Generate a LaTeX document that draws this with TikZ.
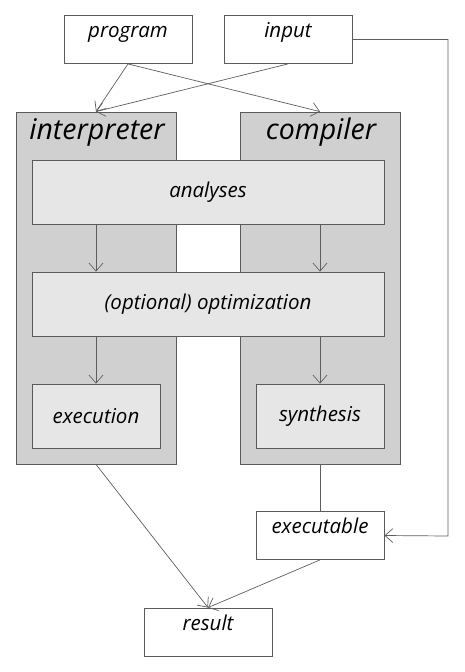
\documentclass[tikz,border=0pt]{standalone}
\usepackage{fontspec}
\setmainfont{Open Sans}
\usetikzlibrary{positioning,arrows.meta}
\definecolor{boxline}{HTML}{5A5A5A}
\definecolor{wireline}{HTML}{5E5E5E}
\definecolor{outerfill}{HTML}{D0D0D0}
\definecolor{innerfill}{HTML}{E6E6E6}
\tikzstyle{io} = [draw=boxline,thick,fill=white,minimum width=128pt,inner ysep=4pt,text height=18pt,text depth=22pt,font=\fontsize{20.5}{24}\selectfont\itshape]
\tikzstyle{tool} = [draw=boxline,thick,fill=outerfill,minimum width=160pt,minimum height=352pt]
\tikzstyle{title} = [font=\fontsize{28.5}{32}\selectfont\itshape,inner sep=0pt]
\tikzstyle{phase} = [draw=boxline,thick,fill=innerfill,minimum height=64pt,font=\fontsize{20.5}{24}\selectfont\itshape]
\tikzstyle{arrow} = [color=wireline,line width=0.7pt,-{Straight Barb[length=8pt,width=14pt]}]

\begin{document}
\begin{tikzpicture}[x=1pt,y=-1pt,node distance=112pt,on grid]
    \useasboundingbox (0,0) rectangle (464,672);
    % the two tools
   	\node[tool](interp) at (96,288){};
   	\node[tool](comp) at (320,288){};
   	\node[title] at (97,132){interpreter};
   	\node[title] at (321,132){compiler};
    % shared phases
   	\node[phase,minimum width=352pt](analyses) at (208,192){analyses};
   	\node[phase,minimum width=352pt](optim)[below=of analyses]{(optional) optimization};
   	\node[phase,minimum width=128pt](exec) at (96,416){execution};
   	\node[phase,minimum width=128pt](synth) at (320,416){synthesis};
    % inputs and outputs
   	\node[io](program) at (128,39.5){program};
   	\node[io](input) at (288,39.5){input};
   	\node[io](binary) at (320,535.5){executable};
   	\node[io](result) at (208,632){result};
    \coordinate (corner) at (448,536);
    \path[arrow]
    (program.south) edge (interp.north)
                    edge (comp.north)
    (input.south) edge (interp.north)
    (analyses.south -| interp) edge (optim.north -| interp)
    (analyses.south -| comp) edge (optim.north -| comp)
    (optim.south -| interp) edge (exec.north)
    (optim.south -| comp) edge (synth.north)
    (interp.south) edge (result.north)
    (binary.south) edge (result.north);
    \draw[wireline,line width=0.7pt] (comp.south) -- (binary.north);
    \draw[arrow] (input.east) -| (corner) -- (binary.east);
\end{tikzpicture}
\end{document}
